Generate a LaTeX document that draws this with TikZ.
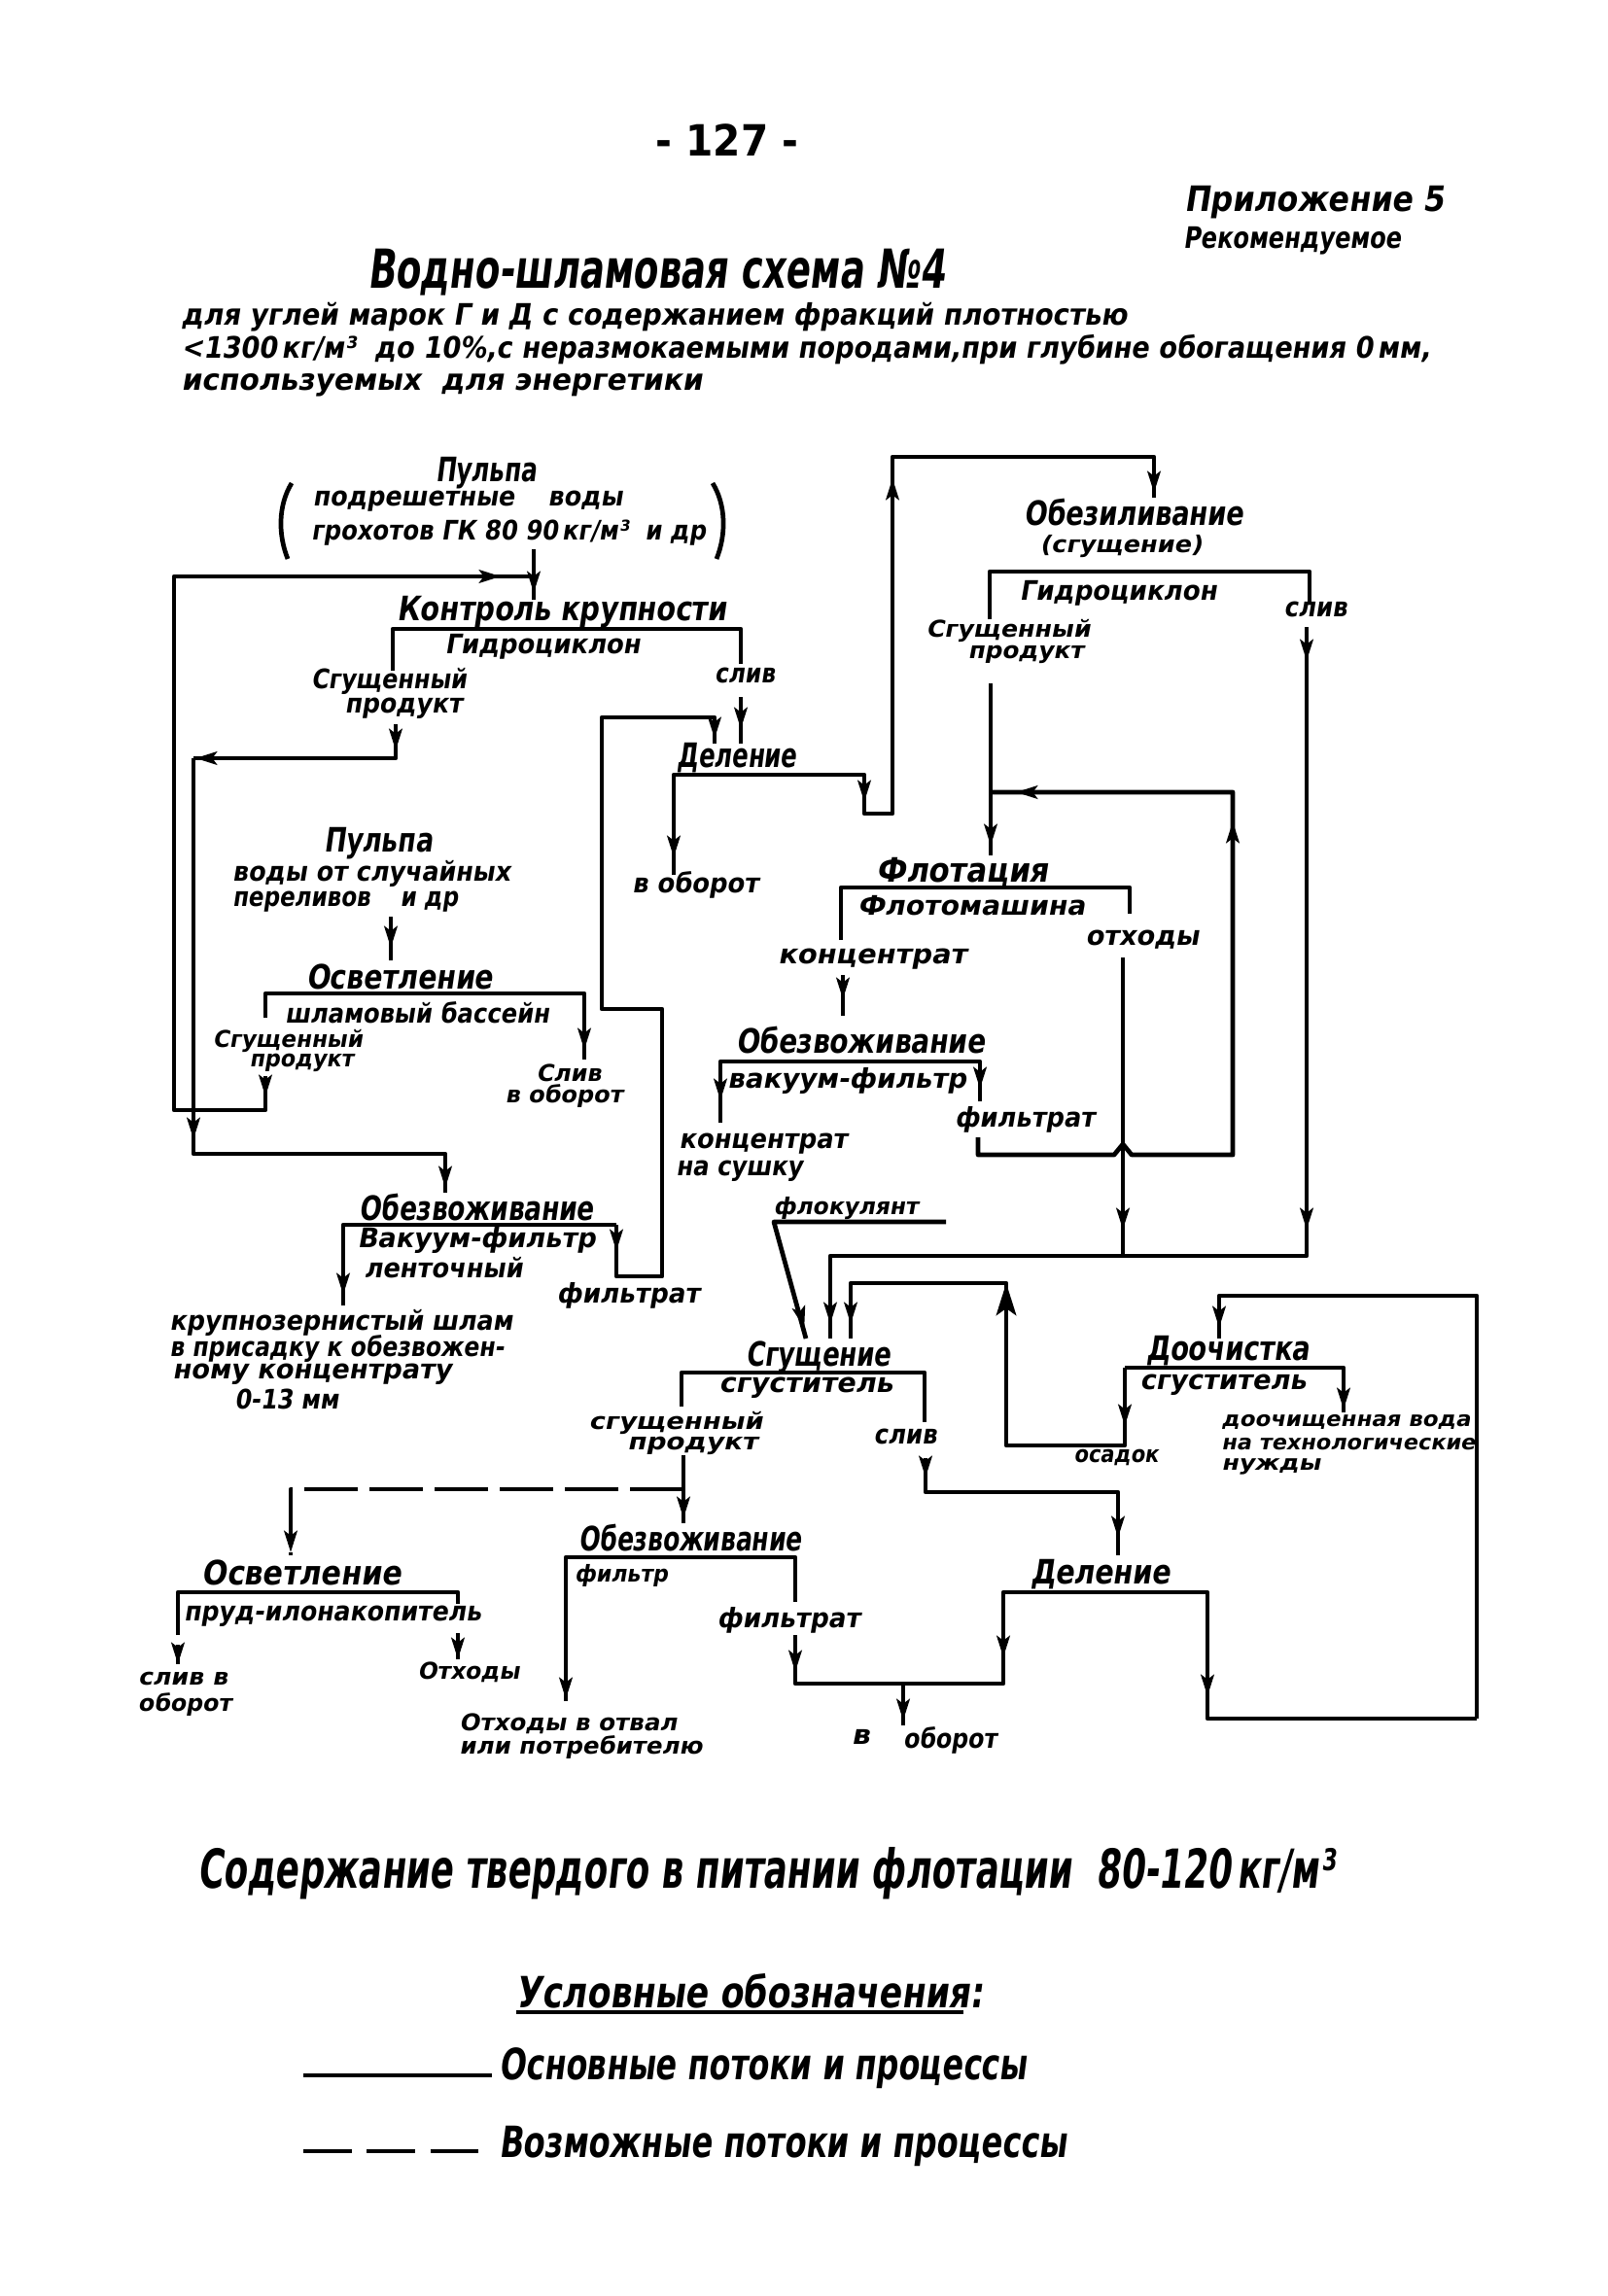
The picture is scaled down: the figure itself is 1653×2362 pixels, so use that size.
\documentclass[tikz,border=0pt]{standalone}
\usepackage{graphicx}
\usepackage{fontspec}
\setmainfont{DejaVu Sans}[FakeSlant=0.18]
\newfontfamily\upfont{DejaVu Sans}
\usetikzlibrary{arrows.meta}
\newlength\px \setlength\px{0.127mm}
\newcommand\W[2]{\resizebox{#1\px}{\height}{#2}}
\newcommand\aD[2]{\draw[arrw] (#1,#2-14) -- (#1,#2);}
\newcommand\aU[2]{\draw[arrw] (#1,#2+14) -- (#1,#2);}
\newcommand\aL[2]{\draw[arrw] (#1+14,#2) -- (#1,#2);}
\newcommand\aR[2]{\draw[arrw] (#1-14,#2) -- (#1,#2);}
\begin{document}
\begin{tikzpicture}[x=0.127mm,y=-0.127mm,line width=0.6mm,line join=round,
  lb/.style={inner sep=0pt,font=\fontsize{10}{11}\selectfont\bfseries},
  sm/.style={inner sep=0pt,font=\fontsize{8.6}{9}\selectfont\bfseries},
  xs/.style={inner sep=0pt,font=\fontsize{7.8}{8}\selectfont\bfseries},
  tt/.style={inner sep=0pt,font=\fontsize{12.5}{13}\selectfont\bfseries},
  sub/.style={inner sep=0pt,font=\fontsize{11}{12}\selectfont\bfseries},
  big/.style={inner sep=0pt,font=\fontsize{20}{22}\selectfont\bfseries},
  leg/.style={inner sep=0pt,font=\fontsize{16}{18}\selectfont\bfseries},
  arrw/.style={-{Stealth[length=2.8mm,width=1.7mm,inset=0.6mm]}},
  arrwB/.style={-{Stealth[length=4.2mm,width=2.6mm,inset=0.9mm]}},
  dsh/.style={dash pattern=on 7mm off 1.5mm}]
\useasboundingbox (0,0) rectangle (1653,2362);

% ---------- header ----------
\node[inner sep=0pt,font=\fontsize{16}{16}\selectfont\upfont\bfseries] (pg) at (748,144) {\W{147}{- 127 -}};
\node[inner sep=0pt,font=\fontsize{13}{14}\selectfont\bfseries] (pril) at (1352,208) {\W{267}{Приложение 5}};
\node[inner sep=0pt,font=\fontsize{11}{12}\selectfont\bfseries] (rek) at (1329,248) {\W{224}{Рекомендуемое}};
\node[big] (title) at (675,280) {\W{594}{Водно-шламовая схема №4}};
\node[sub,anchor=west] (s1) at (184,326) {\W{973}{для углей марок Г и Д с содержанием фракций плотностью}};
\node[sub,anchor=west] (s2) at (184,360) {\W{1285}{<1300\,кг/м³ \ до 10\%,с неразмокаемыми породами,при глубине обогащения 0\,мм,}};
\node[sub,anchor=west] (s3) at (184,396) {\W{536}{используемых \ для энергетики}};

% ---------- top pulp ----------
\node[tt] (p1) at (500,487) {\W{104}{Пульпа}};
\node[lb] (p1a) at (481,516) {\W{319}{подрешетные \quad воды}};
\node[lb] (p1b) at (523,548) {\W{406}{грохотов ГК 80 90\,кг/м³ \ и др}};
\draw (300,497) .. controls (286,520) and (286,550) .. (296,575);
\draw (733,497) .. controls (747,520) and (747,550) .. (737,575);

% ---------- Контроль крупности ----------
\node[tt] (kk) at (578,630) {\W{339}{Контроль крупности}};
\node[lb] (kkh) at (558,665) {\W{201}{Гидроциклон}};
\node[lb] (kks1) at (400,701) {\W{160}{Сгущенный}};
\node[lb] (kks2) at (415,729) {\W{121}{продукт}};
\node[lb] (kksl) at (766,695) {\W{62}{слив}};

% ---------- Деление (upper) ----------
\node[tt] (del1) at (758,780) {\W{123}{Деление}};
\node[lb] (del1o) at (715,910) {\W{130}{в оборот}};

% ---------- Обезиливание ----------
\node[tt] (obz) at (1166,527) {\W{226}{Обезиливание}};
\node[sm] (obz2) at (1153,562) {\W{167}{(сгущение)}};
\node[lb] (obzh) at (1150,610) {\W{203}{Гидроциклон}};
\node[lb] (obzsl) at (1353,627) {\W{65}{слив}};
\node[sm] (obzs1) at (1037,649) {\W{169}{Сгущенный}};
\node[sm] (obzs2) at (1055,673) {\W{119}{продукт}};

% ---------- Осветление (upper) ----------
\node[tt] (p2) at (389,868) {\W{112}{Пульпа}};
\node[lb] (p2a) at (382,899) {\W{286}{воды от случайных}};
\node[lb] (p2b) at (355,928) {\W{232}{переливов \quad и др}};
\node[tt] (osv1) at (411,1005) {\W{192}{Осветление}};
\node[lb] (osv1b) at (429,1042) {\W{272}{шламовый бассейн}};
\node[sm] (osv1s1) at (296,1071) {\W{154}{Сгущенный}};
\node[sm] (osv1s2) at (310,1093) {\W{107}{продукт}};
\node[sm] (osv1sl) at (585,1104) {\W{67}{Слив}};
\node[sm] (osv1o) at (580,1128) {\W{121}{в оборот}};

% ---------- Флотация ----------
\node[tt] (fl) at (990,897) {\W{177}{Флотация}};
\node[lb] (flm) at (999,932) {\W{234}{Флотомашина}};
\node[lb] (flo) at (1175,967) {\W{117}{отходы}};
\node[lb] (flk) at (897,987) {\W{194}{концентрат}};

% ---------- Обезвоживание (вакуум-фильтр) ----------
\node[tt] (ob1) at (885,1070) {\W{256}{Обезвоживание}};
\node[lb] (ob1v) at (871,1112) {\W{246}{вакуум-фильтр}};
\node[lb] (ob1f) at (1054,1152) {\W{144}{фильтрат}};
\node[lb,anchor=west] (ob1k) at (696,1177) {\W{173}{концентрат}};
\node[lb,anchor=west] (ob1k2) at (693,1205) {\W{130}{на сушку}};
\node[sm] (flok) at (870,1243) {\W{149}{флокулянт}};

% ---------- Обезвоживание (ленточный) ----------
\node[tt] (ob2) at (490,1242) {\W{241}{Обезвоживание}};
\node[lb] (ob2v) at (490,1276) {\W{245}{Вакуум-фильтр}};
\node[lb] (ob2l) at (456,1304) {\W{163}{ленточный}};
\node[lb] (ob2f) at (646,1333) {\W{147}{фильтрат}};
\node[lb,anchor=west] (ob2k1) at (172,1361) {\W{353}{крупнозернистый шлам}};
\node[lb,anchor=west] (ob2k2) at (172,1388) {\W{344}{в присадку к обезвожен-}};
\node[lb,anchor=west] (ob2k3) at (175,1414) {\W{287}{ному концентрату}};
\node[lb,anchor=west] (ob2k4) at (239,1439) {\W{107}{0-13 мм}};

% ---------- Сгущение ----------
\node[tt] (sg) at (842,1396) {\W{149}{Сгущение}};
\node[lb] (sgs) at (829,1428) {\W{179}{сгуститель}};
\node[sm] (sgp1) at (695,1464) {\W{179}{сгущенный}};
\node[sm] (sgp2) at (712,1487) {\W{134}{продукт}};
\node[lb] (sgsl) at (931,1478) {\W{65}{слив}};

% ---------- Доочистка ----------
\node[tt] (doo) at (1263,1390) {\W{168}{Доочистка}};
\node[lb] (doos) at (1258,1425) {\W{171}{сгуститель}};
\node[sm] (dooo) at (1148,1499) {\W{87}{осадок}};
\node[xs,anchor=west] (doov1) at (1254,1463) {\W{256}{доочищенная вода}};
\node[xs,anchor=west] (doov2) at (1254,1486) {\W{261}{на технологические}};
\node[xs,anchor=west] (doov3) at (1254,1509) {\W{102}{нужды}};

% ---------- Осветление (lower) ----------
\node[tt] (osv2) at (310,1618) {\W{205}{Осветление}};
\node[lb] (osv2p) at (342,1663) {\W{306}{пруд-илонакопитель}};
\node[sm] (osv2s1) at (188,1727) {\W{92}{слив в}};
\node[sm] (osv2s2) at (190,1754) {\W{96}{оборот}};
\node[sm] (osv2o) at (482,1720) {\W{105}{Отходы}};

% ---------- Обезвоживание (фильтр) ----------
\node[tt] (ob3) at (710,1582) {\W{229}{Обезвоживание}};
\node[sm] (ob3f) at (639,1621) {\W{96}{фильтр}};
\node[lb] (ob3ft) at (811,1667) {\W{147}{фильтрат}};
\node[sm,anchor=west] (ob3o1) at (470,1773) {\W{224}{Отходы в отвал}};
\node[sm,anchor=west] (ob3o2) at (470,1798) {\W{250}{или потребителю}};
\node[lb] (vob1) at (885,1787) {\W{19}{в}};
\node[lb] (vob2) at (977,1790) {\W{96}{оборот}};

% ---------- Деление (lower) ----------
\node[tt] (del2) at (1132,1620) {\W{144}{Деление}};

% ================= connectors =================
% top pulp feed
\draw (549,565) -- (549,617); \aD{549}{610}
% outer loop
\draw (273,1107) -- (273,1142) -- (179,1142) -- (179,593) -- (549,593); \aR{515}{593} \aD{273}{1128}
% Контроль bracket
\draw (404,690) -- (404,647) -- (762,647) -- (762,683);
\draw (762,717) -- (762,765); \aD{762}{750}
% сгущенный продукт -> ленточный фильтр
\draw (407,745) -- (407,780) -- (199,780); \aD{407}{772} \aL{201}{780}
\draw (199,780) -- (199,1187) -- (458,1187) -- (458,1227); \aD{199}{1172} \aD{458}{1222}
% Деление upper
\draw (693,900) -- (693,797) -- (889,797) -- (889,837) -- (918,837) -- (918,470) -- (1187,470) -- (1187,512);
\aD{693}{882} \aD{889}{825} \aU{918}{492} \aD{1187}{507}
% filtrate (belt) -> Деление
\draw (634,1260) -- (634,1313) -- (681,1313) -- (681,1038) -- (619,1038) -- (619,738) -- (735,738) -- (735,765);
\aD{634}{1287} \aD{735}{760}
\draw (353,1343) -- (353,1260) -- (634,1260); \aD{353}{1332}
% Осветление upper
\draw (402,943) -- (402,988); \aD{402}{975}
\draw (273,1047) -- (273,1022) -- (601,1022) -- (601,1090); \aD{601}{1080}
% hydrocyclone top right
\draw (1018,637) -- (1018,588) -- (1347,588) -- (1347,620);
\draw (1019,703) -- (1019,880); \aD{1019}{870}
\draw (1344,645) -- (1344,1292) -- (854,1292) -- (854,1377); \aD{1344}{680} \aD{1344}{1265} \aD{854}{1362}
% filtrate return to flotation
\draw (1006,1170) -- (1006,1188) -- (1146,1188) -- (1155,1177) -- (1164,1188) -- (1268,1188) -- (1268,815) -- (1019,815);
\aU{1268}{845} \aL{1045}{815}
% отходы
\draw (1155,985) -- (1155,1292); \aD{1155}{1265}
% Флотация bracket
\draw (865,967) -- (865,913) -- (1162,913) -- (1162,940);
\draw (867,1003) -- (867,1045); \aD{867}{1028}
% вакуум-фильтр bracket
\draw (741,1155) -- (741,1092) -- (1008,1092) -- (1008,1133); \aD{741}{1132} \aD{1008}{1120}
% флокулянт
\draw (973,1257) -- (796,1257) -- (829,1377);
\draw[arrw] (823.5,1352) -- (827.3,1366);
% осадок
\draw (1157,1407) -- (1157,1487) -- (1035,1487) -- (1035,1320) -- (875,1320) -- (875,1377);
\aD{1157}{1467} \draw[arrwB] (1035,1350) -- (1035,1320); \aD{875}{1362}
% Сгущение bracket
\draw (701,1447) -- (701,1412) -- (951,1412) -- (951,1463);
\draw (703,1497) -- (703,1567); \aD{703}{1562}
\draw[dsh] (703,1532) -- (299,1532) -- (299,1600); \aD{299}{1597}
\draw (952,1500) -- (952,1535) -- (1150,1535) -- (1150,1600); \aD{952}{1520} \aD{1150}{1582}
% Доочистка
\draw (1157,1407) -- (1382,1407) -- (1382,1453); \aD{1382}{1450}
\draw (1519,1768) -- (1519,1333) -- (1254,1333) -- (1254,1377); \aD{1254}{1366}
% lower Обезвоживание / Деление
\draw (582,1750) -- (582,1602) -- (818,1602) -- (818,1648); \aD{582}{1748}
\draw (818,1682) -- (818,1732) -- (1032,1732) -- (1032,1638) -- (1242,1638) -- (1242,1768) -- (1519,1768);
\aD{818}{1720} \aD{1032}{1705} \aD{1242}{1745}
\draw (929,1732) -- (929,1775); \aD{929}{1770}
% Осветление lower
\draw (183,1682) -- (183,1638) -- (471,1638) -- (471,1650);
\draw (183,1692) -- (183,1712); \aD{183}{1712}
\draw (471,1680) -- (471,1707); \aD{471}{1707}

% ---------- footer ----------
\node[big] (sod) at (788,1927) {\W{1169}{Содержание твердого в питании флотации \ 80-120\,кг/м³}};
\node[leg] (uo) at (771,2048) {\W{481}{Условные обозначения:}};
\draw[line width=0.5mm] (531,2070) -- (991,2070);
\draw (312,2135) -- (506,2135);
\node[leg,anchor=west] (l1) at (511,2128) {\W{543}{Основные потоки и процессы}};
\draw[dash pattern=on 6.3mm off 2mm] (312,2213) -- (506,2213);
\node[leg,anchor=west] (l2) at (511,2208) {\W{584}{Возможные потоки и процессы}};
\end{tikzpicture}
\end{document}
